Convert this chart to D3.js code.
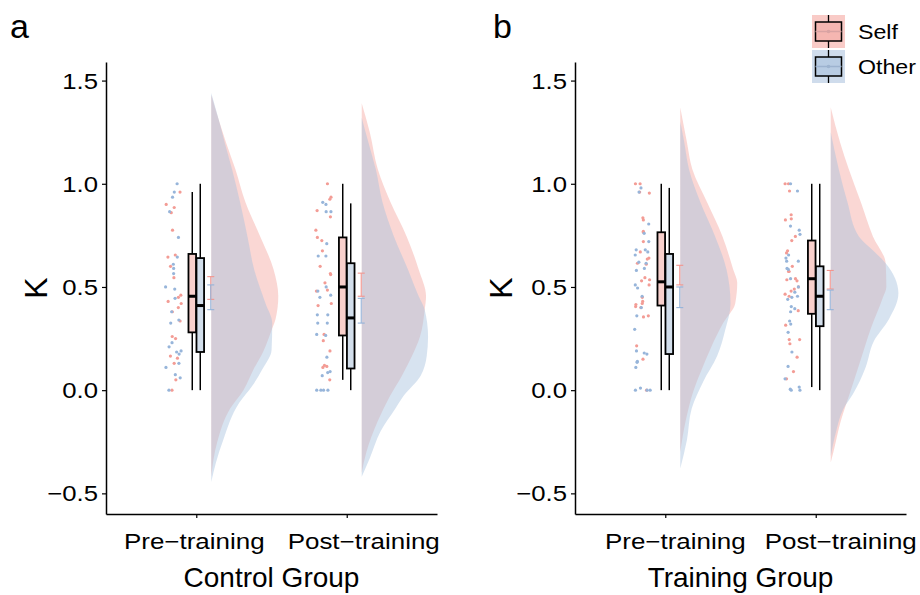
<!DOCTYPE html>
<html>
<head>
<meta charset="utf-8">
<script src="https://cdn.jsdelivr.net/npm/d3@7"></script>
<style>
  body { margin: 0; background: #fff; }
  text { font-family: "Liberation Sans", Arial, sans-serif; fill: #000; }
</style>
</head>
<body>
<svg id="chart" width="920" height="595"></svg>
<script>
// ---- data ----
const phases = ["Pre−training", "Post−training"];
const conditions = ["Self", "Other"];
const groups = ["Control Group", "Training Group"];
const panelLetters = ["a", "b"];
const yTicks = [-0.5, 0, 0.5, 1.0, 1.5];

// individual K values (jittered dots)
const controlPreSelf = [0.96, 0.90, 0.885, 0.86, 0.775, 0.655, 0.645, 0.60, 0.545, 0.46, 0.45, 0.43, 0.42, 0.40, 0.38, 0.335, 0.26, 0.25, 0.165, 0.155, 0.13, 0.05, 0.0];
const controlPreOther = [1.0, 0.96, 0.935, 0.865, 0.74, 0.645, 0.61, 0.59, 0.565, 0.50, 0.49, 0.445, 0.38, 0.34, 0.325, 0.23, 0.21, 0.19, 0.185, 0.175, 0.13, 0.11, 0.075, 0.06, 0.0];
const controlPostSelf = [1.0, 0.935, 0.925, 0.87, 0.84, 0.775, 0.74, 0.725, 0.675, 0.60, 0.565, 0.56, 0.52, 0.485, 0.48, 0.42, 0.41, 0.27, 0.24, 0.19, 0.12, 0.115, 0.11, 0.05];
const controlPostOther = [0.91, 0.90, 0.865, 0.865, 0.71, 0.65, 0.65, 0.50, 0.48, 0.46, 0.45, 0.365, 0.365, 0.325, 0.325, 0.265, 0.27, 0.16, 0.09, 0.085, 0.07, 0.0, 0.0, 0.0, 0.0];
const trainingPreSelf = [1.0, 1.0, 0.96, 0.955, 0.835, 0.825, 0.77, 0.765, 0.72, 0.67, 0.64, 0.635, 0.615, 0.61, 0.545, 0.535, 0.53, 0.51, 0.45, 0.43, 0.42, 0.415, 0.405, 0.40, 0.36, 0.355, 0.215, 0.15, 0.0];
const trainingPreOther = [0.98, 0.96, 0.805, 0.76, 0.72, 0.68, 0.68, 0.67, 0.655, 0.62, 0.615, 0.59, 0.58, 0.51, 0.495, 0.455, 0.40, 0.36, 0.295, 0.19, 0.18, 0.175, 0.14, 0.135, 0.11, 0.0, 0.0, 0.0, 0.01];
const trainingPostSelf = [1.0, 1.0, 0.965, 0.85, 0.83, 0.825, 0.745, 0.725, 0.675, 0.665, 0.60, 0.575, 0.575, 0.54, 0.535, 0.53, 0.50, 0.49, 0.48, 0.465, 0.455, 0.385, 0.315, 0.245, 0.245, 0.225, 0.16, 0.09, 0.055];
const trainingPostOther = [1.0, 0.965, 0.795, 0.775, 0.755, 0.655, 0.64, 0.625, 0.625, 0.59, 0.585, 0.54, 0.50, 0.475, 0.455, 0.45, 0.44, 0.405, 0.395, 0.38, 0.335, 0.32, 0.28, 0.185, 0.115, 0.055, 0.015, 0.005, 0.0, 0.0];

// boxplot stats per phase: [lower whisker, q1, median, q3, upper whisker]
const controlBoxSelf = [[0.0, 0.28, 0.455, 0.66, 0.96], [0.05, 0.265, 0.50, 0.74, 1.0]];
const controlBoxOther = [[0.0, 0.185, 0.41, 0.64, 1.0], [0.0, 0.105, 0.35, 0.615, 0.905]];
const trainingBoxSelf = [[0.0, 0.41, 0.525, 0.765, 1.0], [0.015, 0.37, 0.54, 0.725, 1.0]];
const trainingBoxOther = [[0.0, 0.175, 0.50, 0.66, 0.98], [0.0, 0.31, 0.455, 0.60, 1.0]];

// mean ± SE error bars per phase: [low, high]
const controlErrSelf = [[0.44, 0.55], [0.455, 0.567]];
const controlErrOther = [[0.39, 0.51], [0.325, 0.445]];
const trainingErrSelf = [[0.51, 0.605], [0.49, 0.58]];
const trainingErrOther = [[0.40, 0.50], [0.39, 0.485]];

// half-violin density profiles: [K, relative density]
const controlPreSelfDens = [[1.43, 0], [1.3, 0.12], [1.2, 0.22], [1.07, 0.36], [0.91, 0.51], [0.745, 0.73], [0.585, 0.93], [0.455, 1.0], [0.345, 0.96], [0.30, 0.91], [0.19, 0.78], [0.10, 0.63], [0.0, 0.48], [-0.09, 0.28], [-0.25, 0.09], [-0.42, 0]];
const controlPreOtherDens = [[1.44, 0], [1.3, 0.12], [1.2, 0.2], [1.07, 0.31], [0.91, 0.43], [0.745, 0.54], [0.585, 0.64], [0.42, 0.81], [0.325, 0.91], [0.195, 0.90], [0.10, 0.76], [0.02, 0.61], [-0.06, 0.42], [-0.24, 0.18], [-0.35, 0.07], [-0.445, 0]];
const controlPostSelfDens = [[1.39, 0], [1.25, 0.12], [1.07, 0.24], [0.91, 0.43], [0.745, 0.67], [0.585, 0.85], [0.455, 0.96], [0.39, 0.94], [0.26, 0.87], [0.165, 0.75], [0.07, 0.6], [-0.03, 0.42], [-0.15, 0.24], [-0.3, 0.07], [-0.4, 0]];
const controlPostOtherDens = [[1.32, 0], [1.2, 0.1], [1.07, 0.21], [0.91, 0.31], [0.745, 0.48], [0.585, 0.69], [0.455, 0.85], [0.39, 0.94], [0.26, 0.99], [0.165, 0.97], [0.07, 0.88], [-0.03, 0.62], [-0.09, 0.5], [-0.2, 0.28], [-0.33, 0.12], [-0.42, 0]];
const trainingPreSelfDens = [[1.37, 0], [1.2, 0.1], [1.07, 0.18], [0.91, 0.40], [0.745, 0.63], [0.585, 0.79], [0.52, 0.85], [0.42, 0.82], [0.325, 0.64], [0.2, 0.45], [0.1, 0.32], [0.0, 0.2], [-0.15, 0.08], [-0.3, 0]];
const trainingPreOtherDens = [[1.3, 0], [1.2, 0.06], [1.07, 0.13], [0.91, 0.30], [0.745, 0.52], [0.585, 0.69], [0.42, 0.75], [0.29, 0.67], [0.165, 0.55], [0.04, 0.34], [-0.09, 0.17], [-0.24, 0.1], [-0.38, 0]];
const trainingPostSelfDens = [[1.37, 0], [1.2, 0.14], [1.07, 0.27], [0.91, 0.45], [0.745, 0.63], [0.615, 0.82], [0.5, 0.83], [0.45, 0.78], [0.3, 0.6], [0.15, 0.45], [0.0, 0.3], [-0.15, 0.15], [-0.3, 0.04], [-0.35, 0]];
const trainingPostOtherDens = [[1.25, 0], [1.07, 0.12], [0.91, 0.25], [0.745, 0.42], [0.68, 0.62], [0.615, 0.82], [0.47, 1.01], [0.345, 0.87], [0.235, 0.64], [0.11, 0.52], [-0.02, 0.33], [-0.09, 0.19], [-0.2, 0.08], [-0.32, 0]];

// ---- assemble per panel ----
const panelData = [
  {
    dots: [[controlPreSelf, controlPreOther], [controlPostSelf, controlPostOther]],
    box: [controlBoxSelf, controlBoxOther],
    err: [controlErrSelf, controlErrOther],
    dens: [[controlPreSelfDens, controlPreOtherDens], [controlPostSelfDens, controlPostOtherDens]]
  },
  {
    dots: [[trainingPreSelf, trainingPreOther], [trainingPostSelf, trainingPostOther]],
    box: [trainingBoxSelf, trainingBoxOther],
    err: [trainingErrSelf, trainingErrOther],
    dens: [[trainingPreSelfDens, trainingPreOtherDens], [trainingPostSelfDens, trainingPostOtherDens]]
  }
];

// ---- styling / layout ----
const violinFill = { Self: "#F4A6A0", Other: "#A7C0DE" };
const boxFill = { Self: "#F8D0CC", Other: "#D2DEEB" };
const dotColor = { Self: "#F39C95", Other: "#97B5DA" };
const errColor = { Self: "#F2958E", Other: "#94B3D9" };

const panelLeft = [106, 575];
const plotWidth = 331;
const plotTop = 62, plotBottom = 514;
const labelShift = [[-2, 17], [10, 25]];

const svg = d3.select("#chart");

const y = d3.scaleLinear().domain([-0.6, 1.59]).range([plotBottom, plotTop]);
const wScale = d3.scaleLinear().domain([0, 1]).range([0, 67]);

// deterministic jitter (position only, not data)
const jitter = (j, k, i) => {
  const s = Math.sin((j + 1) * 12.9898 + k * 78.233 + i * 37.719) * 43758.5453;
  return s - Math.floor(s);
};

function stretchText(sel, x, yy, str, size, sx, anchor) {
  return sel.append("text")
    .attr("transform", `translate(${x},${yy}) scale(${sx},1)`)
    .attr("text-anchor", anchor)
    .style("font-size", size + "px")
    .text(str);
}

panelData.forEach((pd, p) => {
  const g = svg.append("g").attr("transform", `translate(${panelLeft[p]},0)`);
  const x = d3.scalePoint().domain(phases).range([0, plotWidth]).padding(0.6);

  // half violins
  phases.forEach((ph, i) => {
    const base = x(ph) + 15;
    conditions.forEach((c, k) => {
      const area = d3.area()
        .curve(d3.curveMonotoneY)
        .y(d => y(d[0]))
        .x0(base)
        .x1(d => base + wScale(d[1]));
      g.append("path")
        .datum(pd.dens[i][k])
        .attr("d", area)
        .attr("fill", violinFill[c])
        .attr("fill-opacity", 0.45);
    });
  });

  // jittered dots
  phases.forEach((ph, i) => {
    const cx = x(ph);
    conditions.forEach((c, k) => {
      g.selectAll(null)
        .data(pd.dots[i][k])
        .enter()
        .append("circle")
        .attr("cx", (d, j) => cx - 31 + 16 * jitter(j, k + 2 * p, i))
        .attr("cy", d => y(d))
        .attr("r", 1.6)
        .attr("fill", dotColor[c]);
    });
  });

  // boxplots
  phases.forEach((ph, i) => {
    conditions.forEach((c, k) => {
      const s = pd.box[k][i];
      const bx = x(ph) + (k === 0 ? -4 : 4);
      g.append("line")
        .attr("x1", bx).attr("x2", bx)
        .attr("y1", y(s[0])).attr("y2", y(s[4]))
        .attr("stroke", "#000").attr("stroke-width", 1.5);
      g.append("rect")
        .attr("x", bx - 3.8).attr("width", 7.6)
        .attr("y", y(s[3])).attr("height", y(s[1]) - y(s[3]))
        .attr("fill", boxFill[c])
        .attr("stroke", "#000").attr("stroke-width", 1.8);
      g.append("line")
        .attr("x1", bx - 3.8).attr("x2", bx + 3.8)
        .attr("y1", y(s[2])).attr("y2", y(s[2]))
        .attr("stroke", "#000").attr("stroke-width", 3);
    });
  });

  // error bars
  phases.forEach((ph, i) => {
    const ex = x(ph) + 14.5;
    conditions.forEach((c, k) => {
      const e = pd.err[k][i];
      const eg = g.append("g").attr("stroke", errColor[c]).attr("stroke-width", 1.1);
      eg.append("line").attr("x1", ex).attr("x2", ex).attr("y1", y(e[0])).attr("y2", y(e[1]));
      eg.append("line").attr("x1", ex - 3.5).attr("x2", ex + 3.5).attr("y1", y(e[0])).attr("y2", y(e[0]));
      eg.append("line").attr("x1", ex - 3.5).attr("x2", ex + 3.5).attr("y1", y(e[1])).attr("y2", y(e[1]));
    });
  });

  // axes
  const yAxis = g.append("g")
    .call(d3.axisLeft(y).tickValues(yTicks).tickSize(4).tickSizeOuter(0));
  yAxis.select(".domain").attr("stroke-width", 1.5);
  yAxis.selectAll(".tick line").attr("stroke-width", 1.2);
  yAxis.selectAll(".tick text").remove();
  yTicks.forEach(t => {
    stretchText(g, -8, y(t) + 8, d3.format(".1f")(t), 22, 1.17, "end");
  });

  const xAxis = g.append("g")
    .attr("transform", `translate(0,${plotBottom})`)
    .call(d3.axisBottom(x).tickSize(4).tickSizeOuter(0));
  xAxis.select(".domain").attr("stroke-width", 1.5);
  xAxis.selectAll(".tick line").attr("stroke-width", 1.2);
  xAxis.selectAll(".tick text").remove();
  phases.forEach((ph, i) => {
    stretchText(g, x(ph) + labelShift[p][i], 549, ph, 22, 1.18, "middle");
  });

  // titles
  stretchText(g, plotWidth / 2, 587, groups[p], 28, 1.0, "middle");
  g.append("text")
    .attr("transform", `translate(${p === 0 ? -71 : -75},288) rotate(-90)`)
    .attr("text-anchor", "middle")
    .attr("dy", "0.36em")
    .style("font-size", "32px")
    .text("K");
  svg.append("text")
    .attr("x", p === 0 ? 10 : 493).attr("y", 38)
    .style("font-size", "34px")
    .text(panelLetters[p]);
});

// legend
const legendKeyBg = { Self: "#F9CBC7", Other: "#CFDCEC" };
const legendBox = { Self: "#F5B6B1", Other: "#B8CCE3" };
const legendMid = { Self: "#D9A3A3", Other: "#9DB3CF" };
const lg = svg.append("g").attr("transform", "translate(812,15)");
conditions.forEach((c, k) => {
  const ky = k * 35;
  lg.append("rect").attr("x", 0).attr("y", ky).attr("width", 33).attr("height", 33).attr("fill", legendKeyBg[c]);
  lg.append("line").attr("x1", 16.5).attr("x2", 16.5).attr("y1", ky).attr("y2", ky + 33)
    .attr("stroke", "#000").attr("stroke-width", 1.3);
  lg.append("rect").attr("x", 3.5).attr("y", ky + 7).attr("width", 26).attr("height", 19)
    .attr("fill", legendBox[c]).attr("stroke", "#000").attr("stroke-width", 1.5);
  lg.append("line").attr("x1", 3.5).attr("x2", 29.5).attr("y1", ky + 16.5).attr("y2", ky + 16.5)
    .attr("stroke", legendMid[c]).attr("stroke-width", 1.5);
  lg.append("circle").attr("cx", 16.5).attr("cy", ky + 16.5).attr("r", 1.8).attr("fill", legendMid[c]);
  stretchText(lg, 46, ky + 24, c, 20, 1.16, "start");
});
</script>
</body>
</html>
